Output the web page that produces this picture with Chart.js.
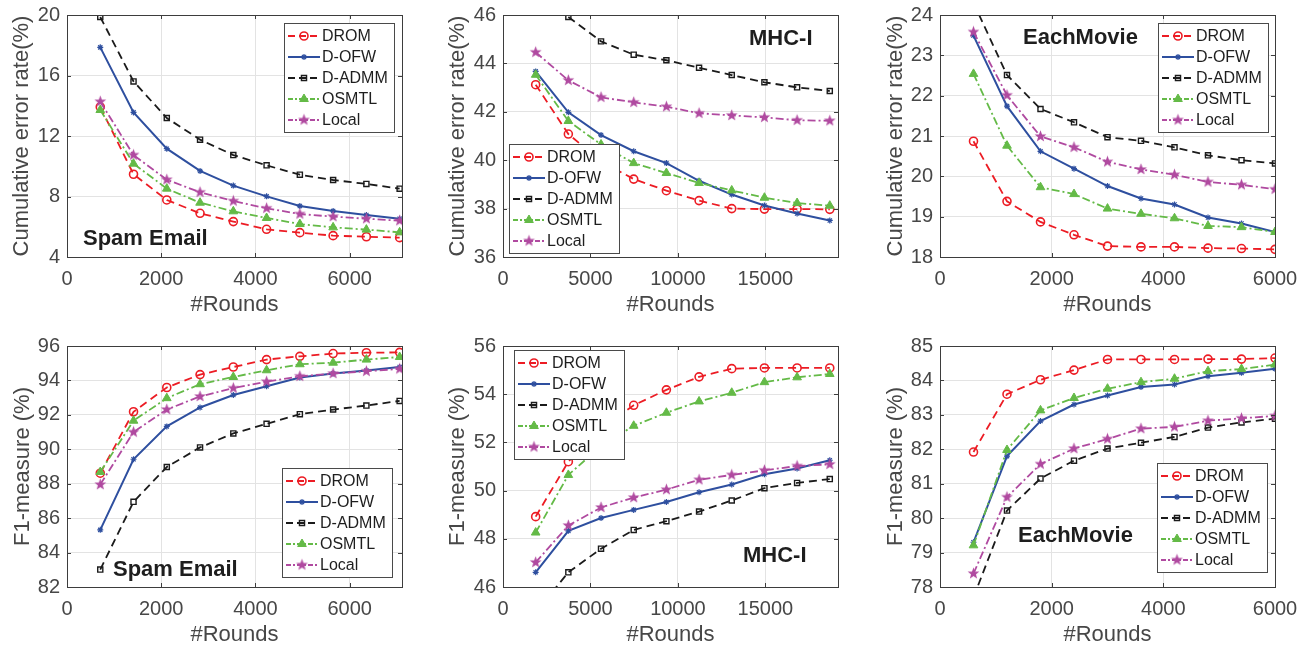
<!DOCTYPE html>
<html>
<head>
<meta charset="utf-8">
<script src="https://cdn.jsdelivr.net/npm/chart.js@4"></script>
<style>
  html, body { margin: 0; padding: 0; background: #fff; overflow: hidden; width: 1299px; height: 645px; }
  canvas { position: absolute; }
</style>
</head>
<body>
<canvas id="p1"></canvas>
<canvas id="p2"></canvas>
<canvas id="p3"></canvas>
<canvas id="p4"></canvas>
<canvas id="p5"></canvas>
<canvas id="p6"></canvas>
<script>
// ---- data ----
const methods = ["DROM", "D-OFW", "D-ADMM", "OSMTL", "Local"];

const roundsSpam = [706, 1412, 2118, 2824, 3530, 4236, 4942, 5648, 6354, 7060];
const roundsMhc = [1868, 3736, 5604, 7472, 9340, 11208, 13076, 14944, 16812, 18680];
const roundsMovie = [600, 1200, 1800, 2400, 3000, 3600, 4200, 4800, 5400, 6000];

// cumulative error rate (%), rows in the order of `methods`
const errSpam = [
  [13.92, 9.47, 7.77, 6.89, 6.34, 5.83, 5.61, 5.41, 5.34, 5.28],
  [17.86, 13.56, 11.16, 9.69, 8.72, 8.01, 7.37, 7.04, 6.78, 6.53],
  [19.87, 15.61, 13.19, 11.76, 10.74, 10.06, 9.44, 9.09, 8.83, 8.52],
  [13.72, 10.17, 8.52, 7.59, 7.02, 6.58, 6.18, 5.96, 5.81, 5.63],
  [14.27, 10.74, 9.11, 8.28, 7.70, 7.22, 6.84, 6.67, 6.53, 6.40]
];
const errMhc = [
  [43.12, 41.08, 39.95, 39.22, 38.74, 38.33, 38.00, 37.98, 37.98, 37.97],
  [43.67, 41.98, 41.04, 40.37, 39.88, 39.15, 38.58, 38.13, 37.80, 37.51],
  [46.8, 45.92, 44.91, 44.36, 44.13, 43.82, 43.52, 43.22, 43.01, 42.86],
  [43.53, 41.62, 40.65, 39.88, 39.47, 39.06, 38.75, 38.45, 38.23, 38.12],
  [44.46, 43.30, 42.60, 42.39, 42.21, 41.94, 41.85, 41.77, 41.65, 41.63]
];
const errMovie = [
  [20.87, 19.38, 18.87, 18.55, 18.27, 18.25, 18.25, 18.22, 18.21, 18.19],
  [23.49, 21.74, 20.62, 20.19, 19.76, 19.45, 19.30, 18.98, 18.83, 18.62],
  [24.3, 22.51, 21.67, 21.34, 20.97, 20.88, 20.72, 20.52, 20.40, 20.32],
  [22.54, 20.76, 19.73, 19.56, 19.20, 19.07, 18.96, 18.77, 18.74, 18.62],
  [23.58, 22.01, 20.99, 20.72, 20.36, 20.17, 20.04, 19.86, 19.79, 19.68]
];

// F1-measure (%)
const f1Spam = [
  [88.61, 92.18, 93.59, 94.34, 94.78, 95.21, 95.40, 95.56, 95.61, 95.63],
  [85.32, 89.42, 91.33, 92.43, 93.15, 93.66, 94.17, 94.40, 94.57, 94.78],
  [83.01, 86.95, 88.97, 90.11, 90.92, 91.48, 92.04, 92.31, 92.54, 92.81],
  [88.68, 91.66, 92.97, 93.78, 94.20, 94.59, 94.94, 95.03, 95.21, 95.36],
  [87.95, 91.00, 92.31, 93.07, 93.55, 93.93, 94.24, 94.40, 94.53, 94.67]
];
const f1Mhc = [
  [48.92, 51.20, 52.60, 53.54, 54.18, 54.72, 55.06, 55.09, 55.09, 55.09],
  [46.61, 48.33, 48.86, 49.20, 49.53, 49.93, 50.25, 50.68, 50.92, 51.26],
  [44.95, 46.61, 47.59, 48.37, 48.73, 49.13, 49.59, 50.10, 50.32, 50.48],
  [48.26, 50.65, 51.85, 52.69, 53.23, 53.70, 54.06, 54.50, 54.70, 54.84],
  [47.02, 48.55, 49.30, 49.71, 50.04, 50.45, 50.65, 50.84, 51.02, 51.09]
];
const f1Movie = [
  [81.92, 83.60, 84.02, 84.30, 84.61, 84.61, 84.61, 84.62, 84.62, 84.65],
  [79.30, 81.80, 82.82, 83.30, 83.56, 83.81, 83.88, 84.12, 84.22, 84.34],
  [77.7, 80.22, 81.15, 81.67, 82.02, 82.19, 82.36, 82.63, 82.78, 82.89],
  [79.21, 81.98, 83.13, 83.49, 83.76, 83.95, 84.05, 84.27, 84.33, 84.46],
  [78.39, 80.61, 81.57, 82.02, 82.30, 82.60, 82.65, 82.83, 82.90, 82.97]
];

// tick labels
const xTicksSpam = [0, 2000, 4000, 6000];
const xTicksMhc = [0, 5000, 10000, 15000];
const xTicksMovie = [0, 2000, 4000, 6000];
const yTicksErrSpam = [4, 8, 12, 16, 20];
const yTicksErrMhc = [36, 38, 40, 42, 44, 46];
const yTicksErrMovie = [18, 19, 20, 21, 22, 23, 24];
const yTicksF1Spam = [82, 84, 86, 88, 90, 92, 94, 96];
const yTicksF1Mhc = [46, 48, 50, 52, 54, 56];
const yTicksF1Movie = [78, 79, 80, 81, 82, 83, 84, 85];

// ---- styles ----
const FONT = "'Liberation Sans', Arial, Helvetica, sans-serif";
const TEXT = "#474747";

function starImage(color, r) {
  const c = document.createElement("canvas");
  const s = Math.ceil(r * 2 + 2);
  c.width = s; c.height = s;
  const g = c.getContext("2d");
  g.fillStyle = color;
  g.beginPath();
  for (let i = 0; i < 10; i++) {
    const rad = i % 2 ? r * 0.42 : r;
    const a = -Math.PI / 2 + i * Math.PI / 5;
    g.lineTo(s / 2 + rad * Math.cos(a), s / 2 + rad * Math.sin(a));
  }
  g.closePath();
  g.fill();
  return c;
}

// legDash = shorter dash used for the little line samples in the legend
const styles = [
  { color: "#ec1c24", dash: [8, 5], legDash: [7, 4], width: 1.8, point: "circle", radius: 4, fill: "rgba(0,0,0,0)", pbw: 1.6, order: 5 },
  { color: "#2e4f9f", dash: [], legDash: [], width: 2, point: "star", radius: 3, fill: "#2e4f9f", pbw: 1.2, order: 4 },
  { color: "#1b1b1b", dash: [8, 5], legDash: [7, 4], width: 1.8, point: "rect", radius: 3.6, fill: "rgba(0,0,0,0)", pbw: 1.4, order: 3 },
  { color: "#64ba47", dash: [8, 3, 2, 3], legDash: [5, 2, 2, 2], width: 1.8, point: "triangle", radius: 5, fill: "#64ba47", pbw: 1, order: 2 },
  { color: "#b04aa0", dash: [8, 3, 2, 3], legDash: [5, 2, 2, 2], width: 1.8, point: starImage("#b04aa0", 6.2), radius: 6, fill: "#b04aa0", pbw: 1, order: 1 }
];

// ---- decoration: box, inward ticks, dataset name, legend inside the axes ----
const decor = {
  id: "decor",
  afterDatasetsDraw(chart, args, o) {
    const ctx = chart.ctx;
    const a = chart.chartArea;
    const xs = chart.scales.x, ys = chart.scales.y;
    ctx.save();
    ctx.strokeStyle = "#3d3d3d";
    ctx.lineWidth = 1;
    ctx.setLineDash([]);
    ctx.strokeRect(Math.round(a.left) + 0.5, Math.round(a.top) + 0.5, Math.round(a.right - a.left), Math.round(a.bottom - a.top));
    ctx.beginPath();
    o.xTicks.forEach(v => {
      const px = Math.round(xs.getPixelForValue(v)) + 0.5;
      ctx.moveTo(px, a.bottom); ctx.lineTo(px, a.bottom - 4);
      ctx.moveTo(px, a.top); ctx.lineTo(px, a.top + 4);
    });
    o.yTicks.forEach(v => {
      const py = Math.round(ys.getPixelForValue(v)) + 0.5;
      ctx.moveTo(a.left, py); ctx.lineTo(a.left + 4, py);
      ctx.moveTo(a.right, py); ctx.lineTo(a.right - 4, py);
    });
    ctx.stroke();

    // dataset name
    ctx.fillStyle = "#1e1e1e";
    ctx.font = "bold 22px " + FONT;
    ctx.textBaseline = "middle";
    ctx.textAlign = "left";
    ctx.fillText(o.name, o.nameX, o.nameY);

    // legend
    const lx = o.legX, ly = o.legY;
    ctx.fillStyle = "#fff";
    ctx.fillRect(lx, ly, 110, 109);
    ctx.strokeStyle = "#4a4a4a";
    ctx.strokeRect(lx + 0.5, ly + 0.5, 110, 109);
    ctx.font = "16px " + FONT;
    methods.forEach((m, i) => {
      const st = styles[i];
      const y = Math.round(ly + 12.5 + i * 21.2);
      ctx.strokeStyle = st.color;
      ctx.lineWidth = st.width;
      ctx.setLineDash(st.legDash);
      ctx.beginPath();
      ctx.moveTo(lx + 4, y); ctx.lineTo(lx + 36, y);
      ctx.stroke();
      ctx.setLineDash([]);
      ctx.fillStyle = st.fill;
      ctx.lineWidth = st.pbw;
      Chart.helpers.drawPoint(ctx, { pointStyle: st.point, radius: st.radius, borderWidth: st.pbw, rotation: 0 }, lx + 20, y);
      ctx.fillStyle = "#1e1e1e";
      ctx.fillText(m, lx + 38, y + 1);
    });
    ctx.restore();
  }
};

function makePanel(id, g, rounds, series, xTicks, xMax, yTicks, yTitle, name, nameX, nameY, legX, legY) {
  const cv = document.getElementById(id);
  cv.width = g.w; cv.height = g.h;
  cv.style.left = g.left + "px"; cv.style.top = g.top + "px";

  const datasets = series.map((vals, i) => {
    const st = styles[i];
    return {
      label: methods[i],
      data: rounds.map((r, k) => ({ x: r, y: vals[k] })),
      borderColor: st.color,
      borderWidth: st.width,
      borderDash: st.dash,
      pointStyle: st.point,
      pointRadius: st.radius,
      pointBorderWidth: st.pbw,
      pointBorderColor: st.color,
      pointBackgroundColor: st.fill,
      tension: 0,
      fill: false,
      order: st.order
    };
  });

  return new Chart(cv, {
    type: "line",
    data: { datasets },
    options: {
      responsive: false,
      animation: false,
      layout: { padding: { left: 0, top: g.padTop, right: g.padRight, bottom: 1 } },
      plugins: {
        legend: { display: false },
        tooltip: { enabled: false },
        decor: { xTicks, yTicks, name, nameX, nameY, legX, legY }
      },
      scales: {
        x: {
          type: "linear", min: 0, max: xMax,
          afterBuildTicks: s => { s.ticks = xTicks.map(v => ({ value: v })); },
          afterFit: s => { s.height = 62; s.paddingLeft = 0; s.paddingRight = 0; },
          grid: { color: "#e3e3e3", drawTicks: false },
          border: { display: false },
          ticks: { autoSkip: false, maxRotation: 0, padding: 10, color: TEXT, font: { family: FONT, size: 20 }, callback: v => String(v) },
          title: { display: true, text: "#Rounds", color: TEXT, font: { family: FONT, size: 22 }, padding: { top: 0, bottom: 1 } }
        },
        y: {
          type: "linear", min: yTicks[0], max: yTicks[yTicks.length - 1],
          afterBuildTicks: s => { s.ticks = yTicks.map(v => ({ value: v })); },
          afterFit: s => { s.width = g.yw; s.paddingTop = 0; s.paddingBottom = 0; },
          grid: { color: "#e3e3e3", drawTicks: false },
          border: { display: false },
          ticks: { padding: 7, color: TEXT, font: { family: FONT, size: 20 }, callback: v => String(v) },
          title: { display: true, text: yTitle, color: TEXT, font: { family: FONT, size: 22 }, padding: { top: g.titlePad, bottom: 0 } }
        }
      }
    },
    plugins: [decor]
  });
}

const ERR = "Cumulative error rate(%)";
const F1 = "F1-measure (%)";

const g1 = { left: 0, top: 0, w: 430, h: 320, padTop: 15, padRight: 28, yw: 67, titlePad: 9 };
const g2 = { left: 430, top: 0, w: 430, h: 320, padTop: 15, padRight: 22, yw: 73, titlePad: 15 };
const g3 = { left: 860, top: 0, w: 439, h: 320, padTop: 15, padRight: 24, yw: 80, titlePad: 23 };
const g4 = { left: 0, top: 320, w: 430, h: 330, padTop: 26, padRight: 28, yw: 67, titlePad: 10 };
const g5 = { left: 430, top: 320, w: 430, h: 330, padTop: 26, padRight: 22, yw: 73, titlePad: 15 };
const g6 = { left: 860, top: 320, w: 439, h: 330, padTop: 26, padRight: 24, yw: 80, titlePad: 23 };

makePanel("p1", g1, roundsSpam, errSpam, xTicksSpam, 7110, yTicksErrSpam, ERR, "Spam Email", 83, 239, 284, 23);
makePanel("p2", g2, roundsMhc, errMhc, xTicksMhc, 19150, yTicksErrMhc, ERR, "MHC-I", 319, 39, 79, 144);
makePanel("p3", g3, roundsMovie, errMovie, xTicksMovie, 6000, yTicksErrMovie, ERR, "EachMovie", 163, 38, 298, 23);
makePanel("p4", g4, roundsSpam, f1Spam, xTicksSpam, 7110, yTicksF1Spam, F1, "Spam Email", 113, 250, 282, 148);
makePanel("p5", g5, roundsMhc, f1Mhc, xTicksMhc, 19150, yTicksF1Mhc, F1, "MHC-I", 313, 236, 84, 30);
makePanel("p6", g6, roundsMovie, f1Movie, xTicksMovie, 6000, yTicksF1Movie, F1, "EachMovie", 158, 216, 297, 143);
</script>
</body>
</html>
